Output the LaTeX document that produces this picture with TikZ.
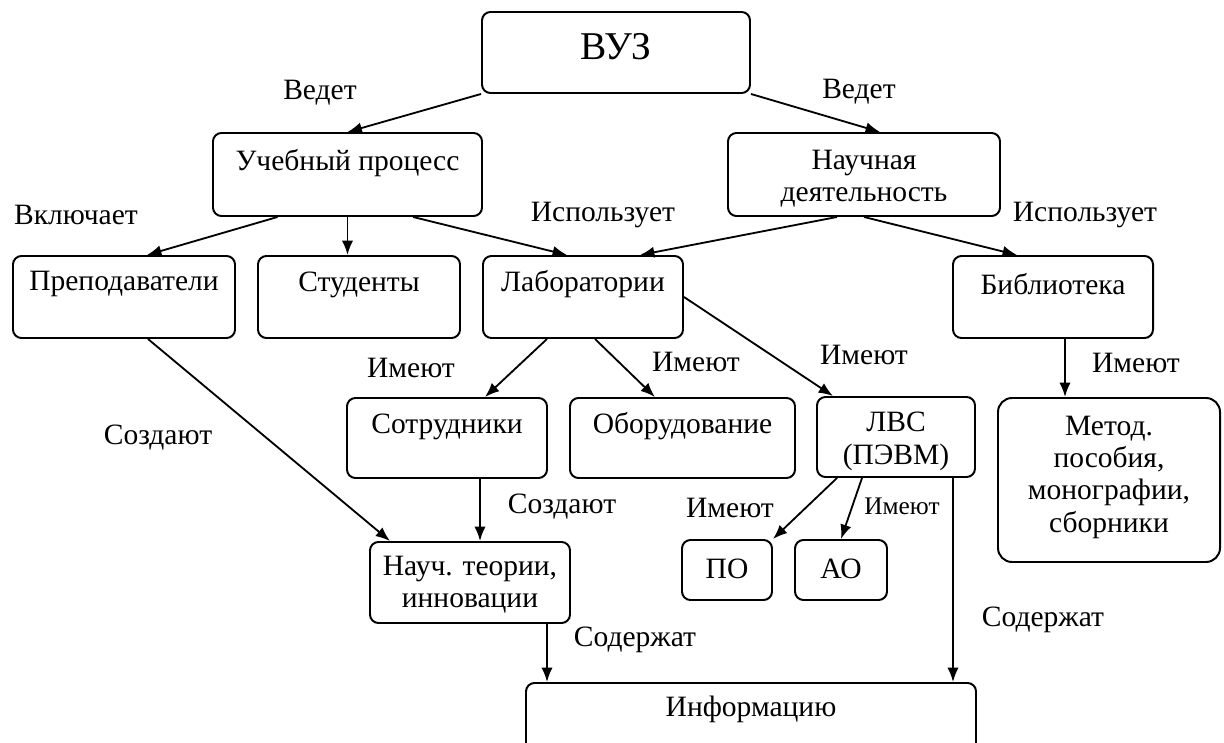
\documentclass[tikz,border=0pt]{standalone}
\usepackage{fontspec}
\setmainfont{Liberation Serif}
\usetikzlibrary{arrows.meta,positioning,calc}

\begin{document}
\begin{tikzpicture}[
    x=1cm,y=1cm,
    font=\fontsize{21}{23}\selectfont,
    blok/.style      = {rectangle,rounded corners=6pt,draw=black,line width=1.4pt,inner sep=0pt},
    txt/.style 2 args= {label={[anchor=center,yshift=-#1-0.06cm,align=center,inner sep=0pt]north:{#2}}},
    fl/.style        = {black,line width=1.3pt,-{Latex[length=3.6mm,width=2.8mm]}},
    lien/.style      = {anchor=center,inner sep=0pt},
  ]
  \useasboundingbox (0,0) rectangle (30.6,18.55);

  % ── ВУЗ и два направления ─────────────────────────────────────────────────
  \node[blok,minimum width=6.7cm,minimum height=2.025cm,
        txt={0.825cm}{\fontsize{28}{30}\selectfont ВУЗ}]            (vuz)   at (15.4,17.2375) {};
  \node[blok,minimum width=6.725cm,minimum height=2.075cm,
        txt={0.725cm}{Учебный процесс}]                             (ucheb) at (8.6875,14.1875) {};
  \node[blok,minimum width=6.8cm,minimum height=2.075cm,
        txt={1.1cm}{Научная\\деятельность}]                          (nauch) at (21.6,14.1875) {};

  \draw[fl] (vuz.south west) -- (ucheb.north);
  \draw[fl] (vuz.south east) -- ([xshift=0.4cm]nauch.north);

  % ── Второй ряд ────────────────────────────────────────────────────────────
  \node[blok,minimum width=5.55cm,minimum height=2.05cm,
        txt={0.675cm}{Преподаватели}]                               (prep)  at (3.1,11.125) {};
  \node[blok,minimum width=5.05cm,minimum height=2.05cm,
        txt={0.675cm}{Студенты}]                                    (stud)  at (8.975,11.125) {};
  \node[blok,minimum width=5.0cm,minimum height=2.05cm,
        txt={0.675cm}{Лаборатории}]                                 (lab)   at (14.575,11.125) {};
  \node[blok,minimum width=5.0cm,minimum height=2.05cm,
        txt={0.675cm}{Библиотека}]                                  (bibl)  at (26.325,11.125) {};

  \draw[fl] ([xshift=-1.75cm]ucheb.south) -- ([xshift=0.575cm]prep.north);
  \draw[fl] (ucheb.south) -- (ucheb.south |- stud.north);
  \draw[fl] ([xshift=1.64cm]ucheb.south)  -- ([xshift=-0.4cm]lab.north);
  \draw[fl] ([xshift=-0.675cm]nauch.south) -- ([xshift=1.425cm]lab.north);
  \draw[fl] (nauch.south) -- ([xshift=-0.9cm]bibl.north);

  % ── Третий ряд ────────────────────────────────────────────────────────────
  \node[blok,minimum width=5.0cm,minimum height=2.0cm,
        txt={0.675cm}{Сотрудники}]                                  (sotr)  at (11.175,7.6) {};
  \node[blok,minimum width=5.625cm,minimum height=2.0cm,
        txt={0.675cm}{Оборудование}]                                (obor)  at (17.0625,7.6) {};
  \node[blok,minimum width=3.95cm,minimum height=2.0cm,
        txt={1.075cm}{ЛВС\\(ПЭВМ)}]                                  (lvs)   at (22.4,7.625) {};
  \node[blok,rounded corners=10pt,minimum width=5.55cm,minimum height=4.1cm,
        txt={1.94cm}{Метод.\\пособия,\\монографии,\\сборники}]       (metod) at (27.725,6.55) {};

  \draw[fl] ([xshift=-0.9cm]lab.south) -- ([xshift=0.95cm]sotr.north);
  \draw[fl] ([xshift=0.3cm]lab.south)  -- ([xshift=-0.69cm]obor.north);
  \draw[fl] (lab.east) -- ([xshift=-1.575cm]lvs.north);
  \draw[fl] ([xshift=0.3cm]bibl.south) -- ([xshift=0.3cm]bibl.south |- metod.north);

  % ── Нижние ряды ───────────────────────────────────────────────────────────
  \node[blok,minimum width=5.0cm,minimum height=2.025cm,
        txt={1.04cm}{Науч. теории,\\инновации}]                      (teor)  at (11.75,3.9875) {};
  \node[blok,minimum width=2.25cm,minimum height=1.5cm,
        txt={0.675cm}{ПО}]                                          (po)    at (18.175,4.3) {};
  \node[blok,minimum width=2.3cm,minimum height=1.5cm,
        txt={0.675cm}{АО}]                                          (ao)    at (21.025,4.3) {};
  \node[blok,minimum width=11.25cm,minimum height=2.0cm,
        txt={0.625cm}{Информацию}]                                  (inf)   at (18.775,0.475) {};

  \draw[fl] ([xshift=0.6cm]prep.south) -- ([xshift=-2cm]teor.north);
  \draw[fl] ([xshift=0.825cm]sotr.south) -- ([xshift=0.825cm]sotr.south |- teor.north);
  \draw[fl] ([xshift=-1.475cm]lvs.south) -- (po.north east);
  \draw[fl] ([xshift=-0.85cm]lvs.south)  -- (ao.north);
  \draw[fl] ([xshift=1.925cm]teor.south) -- ([xshift=1.925cm]teor.south |- inf.north);
  \draw[fl] ([xshift=1.425cm]lvs.south)  -- ([xshift=1.425cm]lvs.south |- inf.north);

  % ── Подписи связей ────────────────────────────────────────────────────────
  \node[lien] (ved1)  at (8.0,16.225)    {Ведет};
  \node[lien] (ved2)  at (21.475,16.25)  {Ведет};
  \node[lien] (vkl)   at (1.9,13.175)    {Включает};
  \node[lien] (isp1)  at (15.075,13.175) {Использует};
  \node[lien] (isp2)  at (27.125,13.175) {Использует};
  \foreach \nm/\x/\y in {im1/10.275/9.35,im2/17.4/9.5,im3/21.6/9.675,im4/28.4/9.475,im5/18.25/5.85}
    \node[lien] (\nm) at (\x,\y) {Имеют};
  \node[lien,font=\fontsize{18}{20}\selectfont] (im6) at (22.55,5.9) {Имеют};
  \node[lien] (soz1)  at (3.95,7.6)      {Создают};
  \node[lien] (soz2)  at (14.05,5.875)   {Создают};
  \node[lien] (sod1)  at (15.875,2.55)   {Содержат};
  \node[lien] (sod2)  at (26.075,3.05)   {Содержат};

\end{tikzpicture}
\end{document}
